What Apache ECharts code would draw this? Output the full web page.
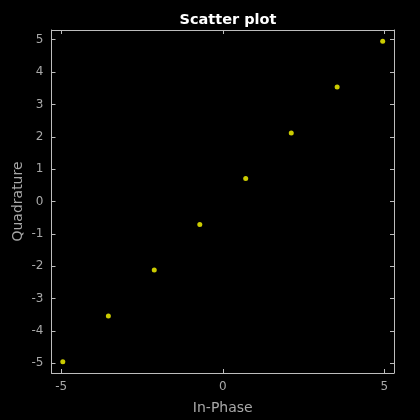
<!DOCTYPE html>
<html><head><meta charset="utf-8">
<script src="https://cdn.jsdelivr.net/npm/echarts@6/dist/echarts.min.js"></script>
<style>html,body{margin:0;padding:0;background:#000}#c{width:420px;height:420px}</style>
</head><body><div id="c"></div>
<script>
const inPhase = [-4.95, -3.54, -2.12, -0.71, 0.71, 2.12, 3.54, 4.95];
const quadrature = [-4.95, -3.54, -2.12, -0.71, 0.71, 2.12, 3.54, 4.95];
const xTicks = [-5, 0, 5];
const yTicks = [-5, -4, -3, -2, -1, 0, 1, 2, 3, 4, 5];
const title = 'Scatter plot';
const xName = 'In-Phase';
const yName = 'Quadrature';

const axisColor = '#bdbdbd';
const labelColor = '#a8a8a8';
const font = 'DejaVu Sans';
const chart = echarts.init(document.getElementById('c'), null, {renderer: 'canvas'});
const base = (pos, ticks, showLabel) => ({
  type: 'value', min: -5.3, max: 5.3, position: pos,
  axisLine: {show: true, onZero: false, lineStyle: {color: axisColor, width: 1}},
  axisTick: {show: true, inside: true, length: 4, customValues: ticks, lineStyle: {color: axisColor}},
  axisLabel: {show: showLabel, customValues: ticks, color: labelColor, fontFamily: font, fontSize: 12, margin: 8},
  splitLine: {show: false}
});
const xb = base('bottom', xTicks, true);
xb.name = xName; xb.nameLocation = 'middle'; xb.nameGap = 28;
xb.nameTextStyle = {color: labelColor, fontFamily: font, fontSize: 14};
const yl = base('left', yTicks, true);
yl.name = yName; yl.nameLocation = 'middle'; yl.nameGap = 26; yl.nameMoveOverlap = false;
yl.nameTextStyle = {color: labelColor, fontFamily: font, fontSize: 14};
chart.setOption({
  backgroundColor: '#000',
  animation: false,
  title: {text: title, left: 223, top: 8, textAlign: 'center',
    textStyle: {color: '#fff', fontFamily: font, fontSize: 14.5, fontWeight: 'bold'}},
  grid: {left: 51.5, right: 26, top: 30, bottom: 47, containLabel: false},
  xAxis: [xb, base('top', xTicks, false)],
  yAxis: [yl, base('right', yTicks, false)],
  series: [{
    type: 'scatter', xAxisIndex: 0, yAxisIndex: 0,
    symbol: 'circle', symbolSize: 5,
    itemStyle: {color: '#ffff00'},
    data: inPhase.map((x, i) => [x, quadrature[i]])
  }]
});
</script></body></html>
